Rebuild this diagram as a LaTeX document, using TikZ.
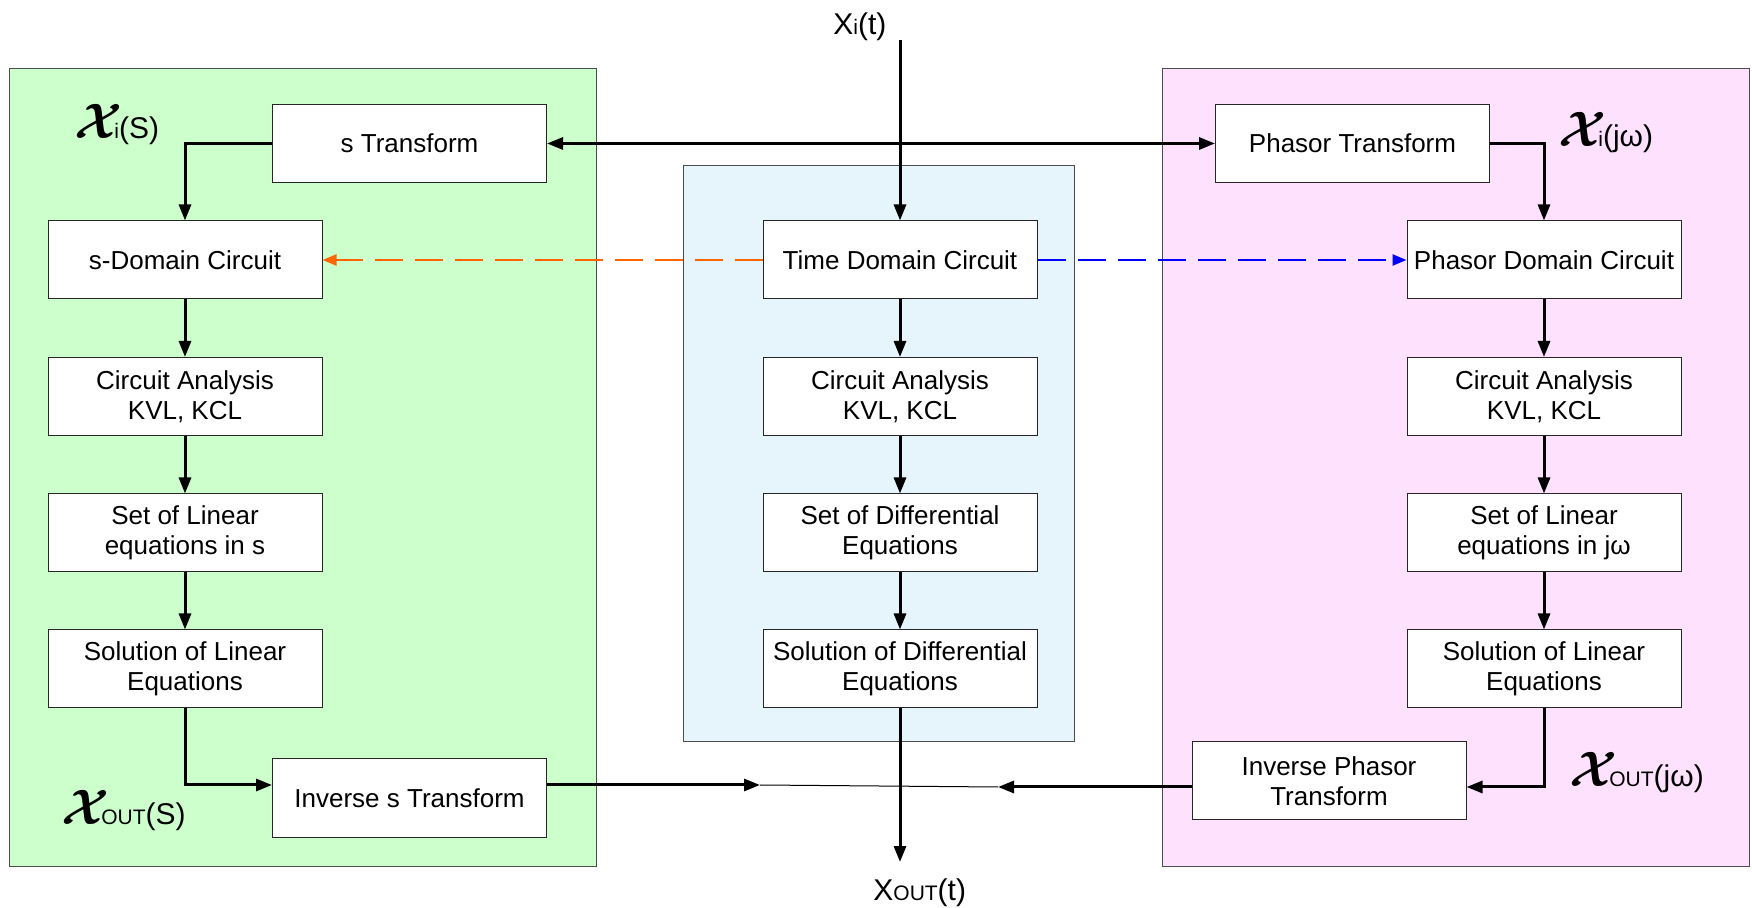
\documentclass[tikz,border=0pt]{standalone}
\usepackage{fontspec}
\usepackage{amsmath}
\setmainfont{Liberation Sans}
\usetikzlibrary{arrows.meta}
\definecolor{sgreen}{HTML}{CCFFCC}
\definecolor{tblue}{HTML}{E6F4FC}
\definecolor{ppink}{HTML}{FDE1FD}
\definecolor{dorange}{HTML}{FF6600}
\newcommand{\scrX}{{\fontsize{31}{31}\selectfont$\boldsymbol{\mathcal{X}}$}\kern-4pt}
\newcommand{\lowtxt}[1]{{\fontsize{10.5}{10.5}\selectfont #1}}

\begin{document}
\begin{tikzpicture}[x=0.5pt, y=-0.5pt,
    box/.style={rectangle, draw=black!85, line width=0.5pt, fill=white, minimum width=137pt, minimum height=39pt, align=center, inner sep=1pt, font=\fontsize{13}{15}\selectfont},
    panel/.style={draw=black!70, line width=0.5pt},
    flow/.style={line width=1.5pt, -{Triangle[length=8pt,width=6pt]}},
    dflow/.style={line width=1.2pt, dash pattern=on 14pt off 6pt, -{Triangle[length=7pt,width=5.5pt]}},
    lbl/.style={anchor=base west, inner sep=0pt, font=\fontsize{15}{15}\selectfont}]
  \useasboundingbox (0,0) rectangle (1752,908);
  \draw[panel, fill=sgreen] (9,69) rectangle (596,866);
  \draw[panel, fill=tblue] (683,166) rectangle (1074,742);
  \draw[panel, fill=ppink] (1162,69) rectangle (1749,866);

  \node[box] (1) at (409.5,143.5) {s Transform};
  \node[box] (2) at (1352.5,143.5) {Phasor Transform};
  \node[box] (3) at (185,260) {s-Domain Circuit};
  \node[box] (4) at (900,260) {Time Domain Circuit};
  \node[box] (5) at (1544,260) {Phasor Domain Circuit};
  \node[box] (6) at (185,396.5) {Circuit Analysis\\KVL, KCL};
  \node[box] (7) at (900,396.5) {Circuit Analysis\\KVL, KCL};
  \node[box] (8) at (1544,396.5) {Circuit Analysis\\KVL, KCL};
  \node[box] (9) at (185,533) {Set of Linear\\equations in s};
  \node[box] (10) at (900,533) {Set of Differential\\Equations};
  \node[box] (11) at (1544,533) {Set of Linear\\equations in jω};
  \node[box] (12) at (185,669) {Solution of Linear\\Equations};
  \node[box] (13) at (900,669) {Solution of Differential\\Equations};
  \node[box] (14) at (1544,669) {Solution of Linear\\Equations};
  \node[box] (15) at (409.5,798) {Inverse s Transform};
  \node[box] (16) at (1329,781) {Inverse Phasor\\Transform};

  \coordinate (in) at (900,40);
  \coordinate (out) at (900,862);
  \coordinate (a) at (760,785);
  \coordinate (b) at (998,787);

  \node[lbl] (xt) at (833,35) {X\lowtxt{i}(t)};
  \node[lbl] (xo) at (873,900) {X\lowtxt{OUT}(t)};
  \node[lbl] (xs) at (74,139) {\scrX\lowtxt{i}(S)};
  \node[lbl] (xw) at (1558,147) {\scrX\lowtxt{i}(jω)};
  \node[lbl] (xos) at (61,825) {\scrX\lowtxt{OUT}(S)};
  \node[lbl] (xow) at (1569,787) {\scrX\lowtxt{OUT}(jω)};

  \draw[line width=1.5pt, {Triangle[length=8pt,width=6pt]}-{Triangle[length=8pt,width=6pt]}] (1.east) -- (2.west);
  \draw[flow] (1.west) -| (3.north);
  \draw[flow] (2.east) -| (5.north);
  \draw[flow] (in) -- (4.north);
  \draw[dflow, dorange] (4.west) -- (3.east);
  \draw[dflow, blue] (4.east) -- (5.west);
  \foreach \source/\dest in {3/6, 6/9, 9/12, 4/7, 7/10, 10/13, 5/8, 8/11, 11/14}
    \draw[flow] (\source) -- (\dest);
  \draw[flow] (12.south) |- (15.west |- a);
  \draw[flow] (14.south) |- (16.east |- b);
  \draw[line width=0.5pt] (a) -- (b);
  \draw[flow] (15.east |- a) -- (a);
  \draw[flow] (16.west |- b) -- (b);
  \draw[flow] (13.south) -- (out);
\end{tikzpicture}
\end{document}
